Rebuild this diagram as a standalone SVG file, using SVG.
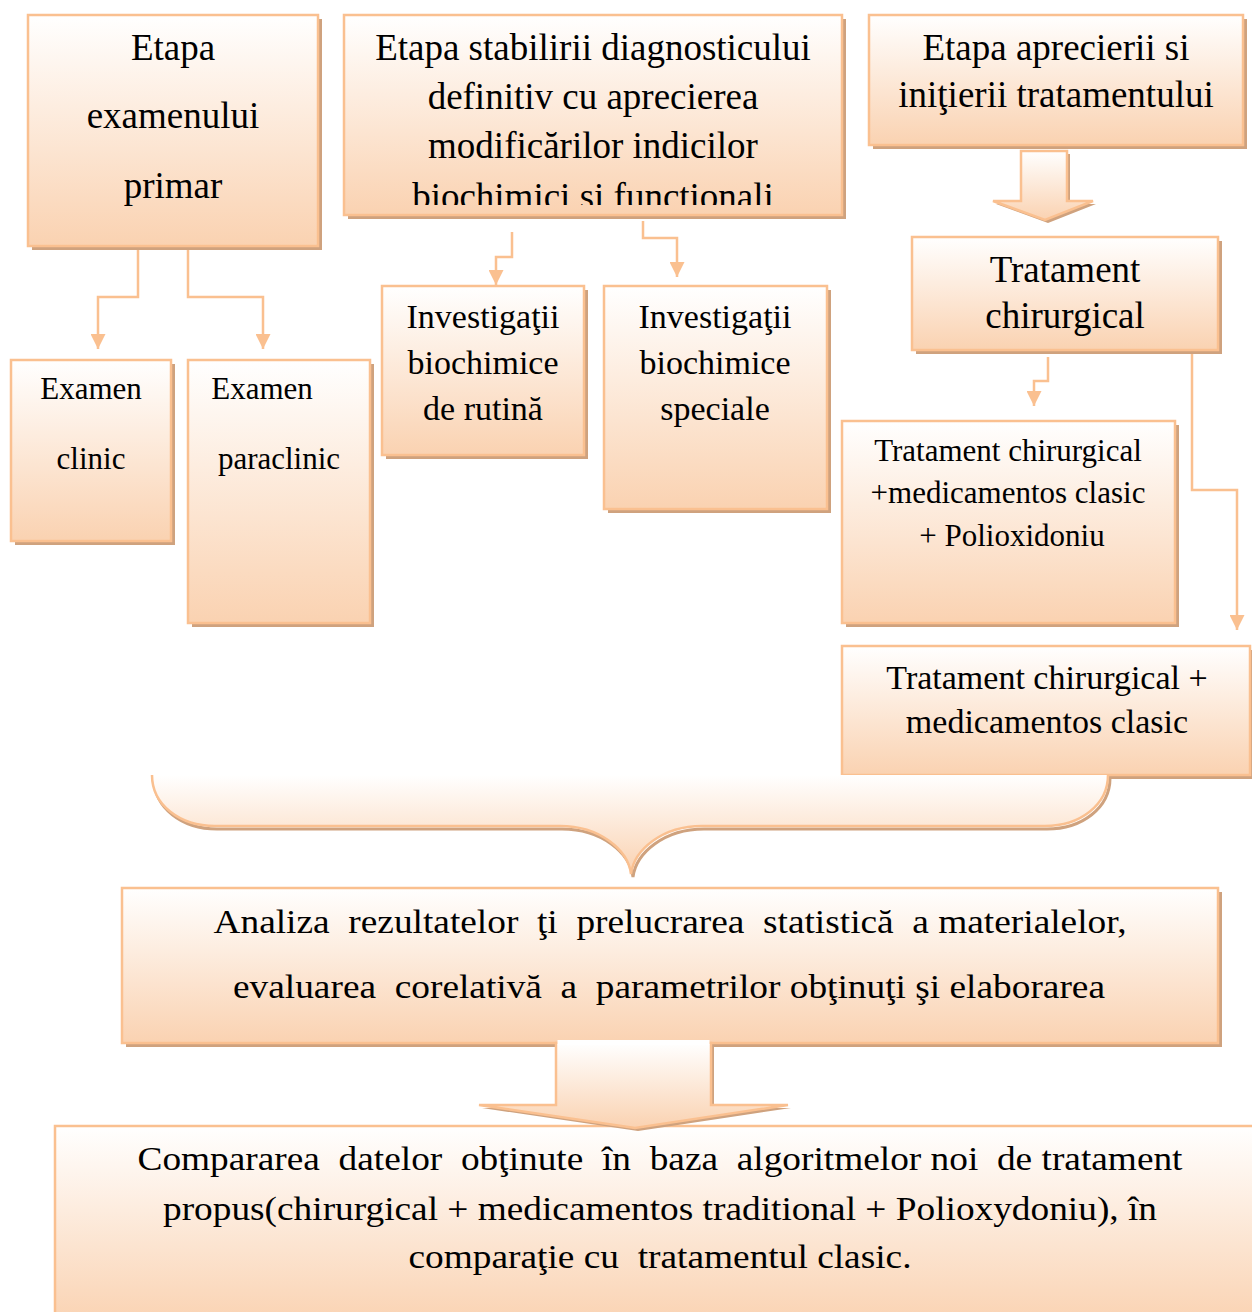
<svg xmlns="http://www.w3.org/2000/svg" width="1252" height="1312" viewBox="0 0 1252 1312">
<defs>
<linearGradient id="g" x1="0" y1="0" x2="0" y2="1">
<stop offset="0" stop-color="#FFFFFF"/>
<stop offset="1" stop-color="#FAD2B1"/>
</linearGradient>
<marker id="ah" markerUnits="userSpaceOnUse" markerWidth="16" markerHeight="15" refX="15" refY="7.5" orient="auto">
<path d="M0,0 L15,7.5 L0,15 Z" fill="#FAC090"/>
</marker>
<clipPath id="clip2"><rect x="344" y="15" width="498" height="190"/></clipPath>
</defs>
<style>
.box{fill:url(#g);stroke:#FAC090;stroke-width:2.5}
.sh{fill:#CFA27E}
.t{font-family:"Liberation Serif","Times New Roman",serif;font-size:34px;fill:#000;text-anchor:middle;white-space:pre}
.big{font-size:37px}
.sm{font-size:31px}
.conn{fill:none;stroke:#FAC090;stroke-width:2.5;marker-end:url(#ah)}
</style>
<rect width="1252" height="1312" fill="#FFFFFF"/>

<g id="connectors">
<path class="conn" d="M138,247 V297 H98 V349"/>
<path class="conn" d="M188,247 V297 H263 V349"/>
<path class="conn" d="M512,232 V257 H496 V285"/>
<path class="conn" d="M643,221 V238 H677 V277"/>
<path class="conn" d="M1048,357 V381 H1034 V406"/>
<path class="conn" d="M1192,352 V490 H1237 V630"/>
</g>

<g id="n1">
<rect class="sh" x="32" y="19" width="290" height="231"/>
<rect class="box" x="28" y="15" width="290" height="231"/>
<text class="t big" x="173" y="60">Etapa</text>
<text class="t big" x="173" y="128">examenului</text>
<text class="t big" x="173" y="198">primar</text>
</g>

<g id="n2">
<rect class="sh" x="348" y="19" width="498" height="200"/>
<rect class="box" x="344" y="15" width="498" height="200"/>
<g clip-path="url(#clip2)">
<text class="t big" x="593" y="60">Etapa stabilirii diagnosticului</text>
<text class="t big" x="593" y="109">definitiv cu aprecierea</text>
<text class="t big" x="593" y="158">modificărilor indicilor</text>
<text class="t big" x="593" y="209">biochimici si functionali</text>
</g>
</g>

<g id="n3">
<rect class="sh" x="873" y="19" width="374" height="130"/>
<rect class="box" x="869" y="15" width="374" height="130"/>
<text class="t big" x="1056" y="60">Etapa aprecierii si</text>
<text class="t big" x="1056" y="107">iniţierii tratamentului</text>
</g>

<g id="arrow1">
<path d="M1024,154 H1070 V204 H1096 L1048,223 L996,204 H1024 Z" fill="#CFA27E"/>
<path d="M1021,151 H1067 V201 H1093 L1045,220 L993,201 H1021 Z" fill="url(#g)" stroke="#FAC090" stroke-width="2.5" stroke-linejoin="miter"/>
</g>

<g id="n5">
<rect class="sh" x="916" y="241" width="306" height="113"/>
<rect class="box" x="912" y="237" width="306" height="113"/>
<text class="t big" x="1065" y="282">Tratament</text>
<text class="t big" x="1065" y="328">chirurgical</text>
</g>

<g id="n6">
<rect class="sh" x="846" y="425" width="333" height="202"/>
<rect class="box" x="842" y="421" width="333" height="202"/>
<text class="t sm" x="1008" y="461">Tratament chirurgical</text>
<text class="t sm" x="1008" y="503">+medicamentos clasic</text>
<text class="t sm" x="1012" y="546">+ Polioxidoniu</text>
</g>

<g id="n7">
<rect class="sh" x="846" y="650" width="408" height="129"/>
<rect class="box" x="842" y="646" width="408" height="129"/>
<text class="t" x="1047" y="689">Tratament chirurgical +</text>
<text class="t" x="1047" y="733">medicamentos clasic</text>
</g>

<g id="n8">
<rect class="sh" x="15" y="364" width="160" height="181"/>
<rect class="box" x="11" y="360" width="160" height="181"/>
<text class="t sm" x="91" y="399">Examen</text>
<text class="t sm" x="91" y="469">clinic</text>
</g>

<g id="n9">
<rect class="sh" x="192" y="364" width="182" height="263"/>
<rect class="box" x="188" y="360" width="182" height="263"/>
<text class="t sm" x="262" y="399">Examen</text>
<text class="t sm" x="279" y="469">paraclinic</text>
</g>

<g id="n10">
<rect class="sh" x="386" y="290" width="202" height="169"/>
<rect class="box" x="382" y="286" width="202" height="169"/>
<text class="t" x="483" y="328">Investigaţii</text>
<text class="t" x="483" y="374">biochimice</text>
<text class="t" x="483" y="420">de rutină</text>
</g>

<g id="n11">
<rect class="sh" x="608" y="290" width="223" height="223"/>
<rect class="box" x="604" y="286" width="223" height="223"/>
<text class="t" x="715" y="328">Investigaţii</text>
<text class="t" x="715" y="374">biochimice</text>
<text class="t" x="715" y="420">speciale</text>
</g>

<g id="brace">
<path d="M154,778 C154,808 182,829 217,829 H562 C602,829 630,853 633,877 C636,853 664,829 704,829 H1047 C1082,829 1110,808 1110,778" fill="none" stroke="#CFA27E" stroke-width="3"/>
<path d="M152,775 C152,805 180,826 215,826 H560 C600,826 628,850 631,874 C634,850 662,826 702,826 H1045 C1080,826 1108,805 1108,775" fill="url(#g)" stroke="#FAC090" stroke-width="2.5"/>
</g>

<g id="n13">
<rect class="sh" x="126" y="892" width="1096" height="155"/>
<rect class="box" x="122" y="888" width="1096" height="155"/>
<text class="t" x="670" y="933" textLength="913" lengthAdjust="spacingAndGlyphs">Analiza  rezultatelor  ţi  prelucrarea  statistică  a materialelor,</text>
<text class="t" x="669" y="998" textLength="872" lengthAdjust="spacingAndGlyphs">evaluarea  corelativă  a  parametrilor obţinuţi şi elaborarea</text>
</g>

<g id="n15">
<rect class="box" x="55" y="1126" width="1200" height="200"/>
<text class="t" x="660" y="1170" textLength="1045" lengthAdjust="spacingAndGlyphs">Compararea  datelor  obţinute  în  baza  algoritmelor noi  de tratament</text>
<text class="t" x="660" y="1220" textLength="994" lengthAdjust="spacingAndGlyphs">propus(chirurgical + medicamentos traditional + Polioxydoniu), în</text>
<text class="t" x="660" y="1268" textLength="503" lengthAdjust="spacingAndGlyphs">comparaţie cu  tratamentul clasic.</text>
</g>

<g id="arrow2">
<path d="M560,1046 H714 V1108 H791 L638,1131 L482,1108 H560 Z" fill="#CFA27E"/>
<path d="M556,1043 H711 V1105 H788 L635,1128 L479,1105 H556 Z" fill="url(#g)" stroke="#FAC090" stroke-width="2.5"/>
<rect x="557.5" y="1040" width="152" height="5" fill="#FFFFFF"/>
</g>
</svg>
